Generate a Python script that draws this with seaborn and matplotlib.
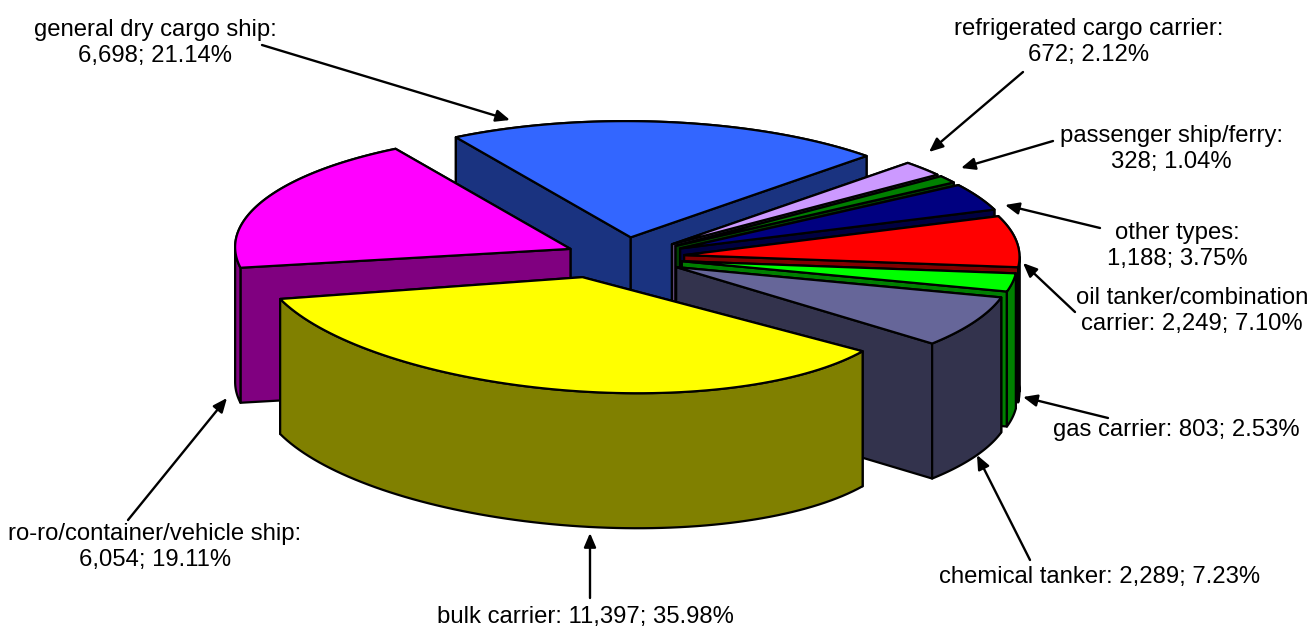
import matplotlib
matplotlib.use("Agg")
import matplotlib.pyplot as plt
import numpy as np
import seaborn as sns

categories = ["general dry cargo ship", "refrigerated cargo carrier", "passenger ship/ferry",
              "other types", "oil tanker/combination carrier", "gas carrier", "chemical tanker",
              "bulk carrier", "ro-ro/container/vehicle ship"]
counts = [6698, 672, 328, 1188, 2249, 803, 2289, 11397, 6054]
top_colors = ["#3366FF", "#CC99FF", "#008000", "#000080", "#FF0000", "#00FF00", "#666699", "#FFFF00", "#FF00FF"]
label_text = ["general dry cargo ship:\n6,698; 21.14%", "refrigerated cargo carrier:\n672; 2.12%",
              "passenger ship/ferry:\n328; 1.04%", "other types:\n1,188; 3.75%",
              "oil tanker/combination\ncarrier: 2,249; 7.10%", "gas carrier: 803; 2.53%",
              "chemical tanker: 2,289; 7.23%", "bulk carrier: 11,397; 35.98%",
              "ro-ro/container/vehicle ship:\n6,054; 19.11%"]
label_xy = [(155, 43), (1089, 42), (1171, 149), (1177, 246), (1192, 311), (1176, 430), (1100, 577), (585, 617), (155, 547)]
arrow_from = [(262, 45), (1023, 72), (1053, 141), (1100, 228), (1075, 312), (1108, 418), (1030, 560), (590, 598), (128, 520)]
arrow_to = [(510, 120), (929, 152), (961, 168), (1005, 205), (1023, 263), (1023, 397), (977, 455), (590, 533), (227, 398)]

# projection of the tilted disc
CX, CY = 624, 257.5
RY = 116
DEPTH = 135
EXPLODE = 0.175
START = 124
# each slice sits a little differently in the original 3d rendering
SLICE_RX = [335, 335, 335, 335, 335, 335, 335, 320, 335]
SLICE_SHEAR = [15, 15, 15, 15, 15, 15, 15, -44, 15]
SLICE_TILT = [7, 7, 7, 7, 7, 7, 7, 4, 7]
NUDGE_X = [0, 4, 4, 4, 2, 0, 0, -37, 0]

sns.set_theme(style="white")
plt.rcParams["font.family"] = ["Liberation Sans", "DejaVu Sans"]
palette = sns.color_palette(top_colors)


def draw_poly(ax, xs, ys, color, z):
    ax.fill(xs, ys, facecolor=color, edgecolor="black", linewidth=1.6, joinstyle="round", zorder=z)


fig = plt.figure(figsize=(13.12, 6.28), dpi=100)
ax = fig.add_axes([0, 0, 1, 1])
ax.set_xlim(0, 1312)
ax.set_ylim(628, 0)
ax.axis("off")

fractions = np.array(counts) / sum(counts)
edges = START - 360 * np.concatenate([[0], np.cumsum(fractions)])
mids = np.radians((edges[:-1] + edges[1:]) / 2)
# far slices first, the front one last
order = np.argsort(-np.sin(mids))

for rank, i in enumerate(order):
    z = rank * 10
    top = np.array(palette[i])
    wall = top * 0.5
    off_x, off_y = EXPLODE * np.cos(mids[i]), EXPLODE * np.sin(mids[i])
    t = np.radians(np.linspace(edges[i], edges[i + 1], 80))

    def project(x, y):
        return (CX + NUDGE_X[i] + SLICE_RX[i] * x + SLICE_SHEAR[i] * y,
                CY - RY * y + SLICE_TILT[i] * x)

    rim_x, rim_y = project(off_x + np.cos(t), off_y + np.sin(t))
    ax_x, ax_y = project(off_x, off_y)

    # rim runs clockwise, so it moves left on the side facing the viewer
    front = np.diff(rim_x) < 0
    for flag, zz in [(False, z), (True, z + 2)]:
        idx = np.where(front == flag)[0]
        if len(idx) == 0:
            continue
        xs = rim_x[idx[0]:idx[-1] + 2]
        ys = rim_y[idx[0]:idx[-1] + 2]
        draw_poly(ax, np.r_[xs, xs[::-1]], np.r_[ys, ys[::-1] + DEPTH], wall, zz)

    for e in sorted([0, -1], key=lambda e: rim_y[e]):
        draw_poly(ax, [ax_x, rim_x[e], rim_x[e], ax_x], [ax_y, rim_y[e], rim_y[e] + DEPTH, ax_y + DEPTH], wall, z + 1)
    draw_poly(ax, np.r_[ax_x, rim_x], np.r_[ax_y, rim_y], top, z + 3)

for txt, xy, a, b in zip(label_text, label_xy, arrow_from, arrow_to):
    ax.text(xy[0], xy[1], txt, ha="center", va="center", fontsize=17.2, color="black", linespacing=1.2, zorder=200)
    ax.annotate("", xy=b, xytext=a, zorder=201,
                arrowprops=dict(arrowstyle="-|>,head_length=0.7,head_width=0.3", color="black", lw=1.7,
                                shrinkA=0, shrinkB=0))

fig.savefig("out.png", dpi=100)
